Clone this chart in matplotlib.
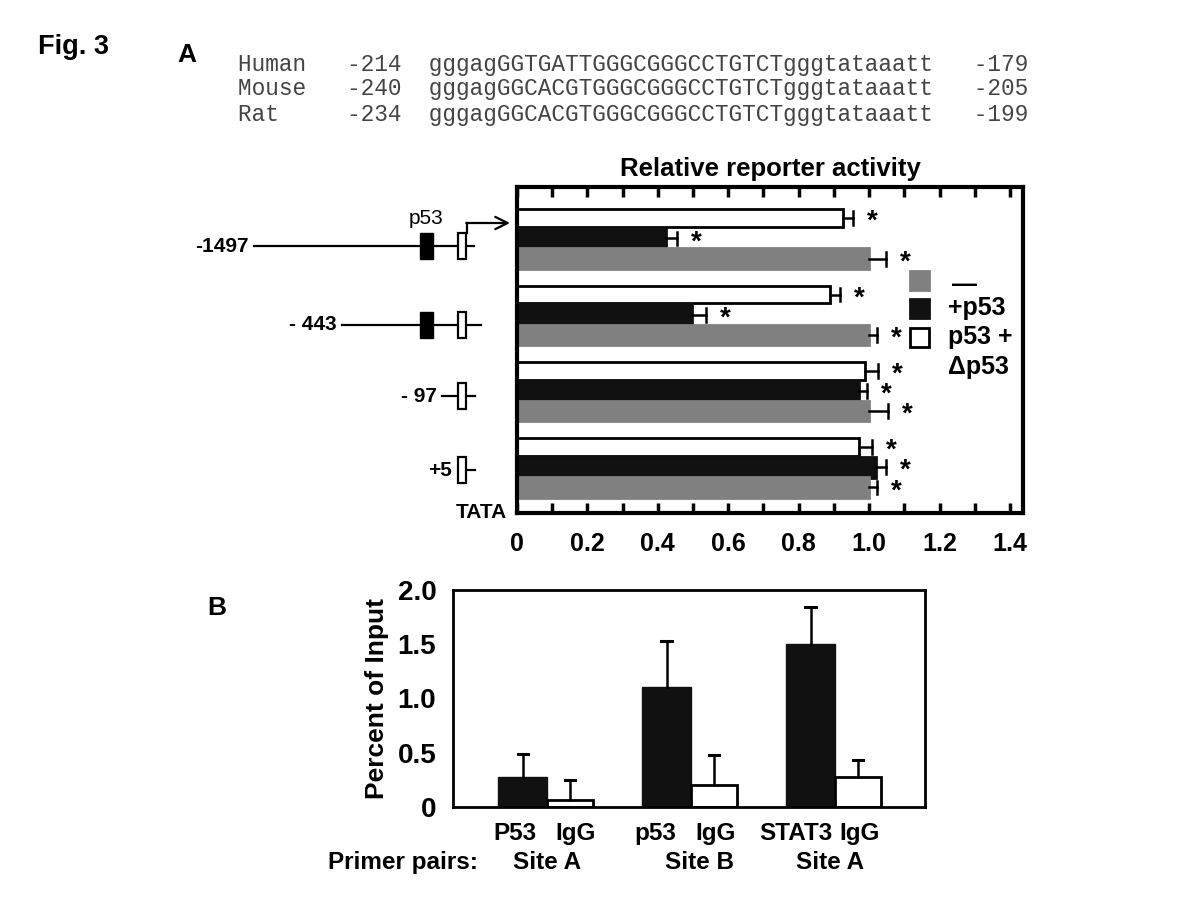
import numpy as np
import matplotlib
matplotlib.use('Agg')
import matplotlib.pyplot as plt
from matplotlib.patches import Rectangle

plt.rcParams['font.family'] = ['Liberation Sans', 'DejaVu Sans']

# --- promoter alignment (panel A, top)
species = ['Human', 'Mouse', 'Rat']
seq_start = ['-214', '-240', '-234']
sequences = ['gggagGGTGATTGGGCGGGCCTGTCTgggtataaatt',
             'gggagGGCACGTGGGCGGGCCTGTCTgggtataaatt',
             'gggagGGCACGTGGGCGGGCCTGTCTgggtataaatt']
seq_end = ['-179', '-205', '-199']

# --- reporter assay (panel A)
constructs = ['-1497', '- 443', '- 97', '+5']
has_p53_site = [True, True, False, False]
ctrl = [1.0, 1.0, 1.0, 1.0]
ctrl_err = [0.048, 0.023, 0.053, 0.023]
p53 = [0.424, 0.497, 0.971, 1.02]
p53_err = [0.03, 0.04, 0.023, 0.028]
dp53 = [0.927, 0.89, 0.988, 0.972]
dp53_err = [0.026, 0.027, 0.038, 0.035]
legend_labels = ['\u2014', '+p53', 'p53 +\n\u0394p53']

# --- ChIP (panel B)
antibodies = ['P53', 'p53', 'STAT3']
sites = ['Site A', 'Site B', 'Site A']
chip = [0.281, 1.105, 1.502]
chip_err = [0.208, 0.428, 0.345]
igg = [0.067, 0.205, 0.275]
igg_err = [0.183, 0.274, 0.159]

W, H = 1200, 900
fig = plt.figure(figsize=(12, 9), dpi=100)


def fx(px):
    return px / W


def fy(py):
    return 1 - py / H


bold = dict(fontweight='bold')

# ================= panel A
axA = fig.add_axes([fx(517), fy(513), fx(1023 - 517), (513 - 187) / H])
y = np.arange(len(constructs))
off = 0.265
rows = [(y - off, dp53, dp53_err, 'white', 0.235),
        (y, p53, p53_err, '#111111', 0.27),
        (y + off, ctrl, ctrl_err, '#808080', 0.27)]
for yy, vals, errs, col, h in rows:
    edge = 'black' if col == 'white' else col
    axA.barh(yy, vals, height=h, color=col, edgecolor=edge, linewidth=2)
    for yi, v, e in zip(yy, vals, errs):
        axA.plot([v, v + e], [yi, yi], color='black', lw=1.8)
        axA.plot([v + e, v + e], [yi - 0.09, yi + 0.09], color='black', lw=1.8)
        axA.text(v + e + 0.055, yi + 0.05, '*', ha='center', va='center',
                 fontsize=20, fontweight='bold')

axA.set_xlim(0, 1.437)
axA.set_ylim(len(constructs) - 0.4, -0.675)
axA.set_xticks(np.arange(0, 1.41, 0.2))
axA.set_xticks(np.arange(0, 1.41, 0.1), minor=True)
axA.set_xticklabels(['0', '0.2', '0.4', '0.6', '0.8', '1.0', '1.2', '1.4'],
                    fontsize=18, fontweight='bold')
axA.tick_params(axis='x', which='both', direction='in', top=True, length=7,
                width=2.5, pad=14)
axA.set_yticks([])
for s in axA.spines.values():
    s.set_linewidth(3)
axA.set_title('Relative reporter activity', fontsize=18.5, fontweight='bold', pad=8)

# ================= panel B
axB = fig.add_axes([fx(453), fy(807), fx(925 - 453), (807 - 590) / H])
x = np.arange(len(antibodies))
axB.bar(x, chip, width=-0.34, align='edge', color='#111111', edgecolor='#111111')
axB.bar(x, igg, width=0.32, align='edge', color='white', edgecolor='black', linewidth=2)
for xi, v, e in zip(x - 0.17, chip, chip_err):
    axB.plot([xi, xi], [v, v + e], color='black', lw=1.8)
    axB.plot([xi - 0.035, xi + 0.035], [v + e, v + e], color='black', lw=2.2)
for xi, v, e in zip(x + 0.16, igg, igg_err):
    axB.plot([xi, xi], [v, v + e], color='black', lw=1.8)
    axB.plot([xi - 0.035, xi + 0.035], [v + e, v + e], color='black', lw=2.2)
axB.set_xlim(-0.653, 2.625)
axB.set_ylim(0, 2.0)
axB.set_xticks([])
axB.set_yticks([0, 0.5, 1.0, 1.5, 2.0])
axB.set_yticklabels(['0', '0.5', '1.0', '1.5', '2.0'], fontsize=20, fontweight='bold')
axB.tick_params(axis='y', length=0, pad=12)
for s in axB.spines.values():
    s.set_linewidth(2)
axB.set_ylabel('Percent of Input', fontsize=19, fontweight='bold', labelpad=6)

# label offsets under each pair of bars
ab_dx = [-0.22, -0.25, -0.27]
igg_dx = [0.20, 0.17, 0.17]
site_dx = [0.0, 0.06, -0.035]
tr = axB.get_xaxis_transform()
for xi, ab, st, a, g, sd in zip(x, antibodies, sites, ab_dx, igg_dx, site_dx):
    axB.text(xi + a, -0.12, ab, transform=tr, ha='center', va='center',
             fontsize=17.5, **bold)
    axB.text(xi + g, -0.12, 'IgG', transform=tr, ha='center', va='center',
             fontsize=17.5, **bold)
    axB.text(xi + sd, -0.255, st, transform=tr, ha='center', va='center',
             fontsize=17.5, **bold)
axB.text(-0.48, -0.255, 'Primer pairs:', transform=tr, ha='right', va='center',
         fontsize=17.5, **bold)

# ================= overlay: labels, alignment, promoter diagram, legend
ov = fig.add_axes([0, 0, 1, 1], zorder=10)
ov.set_xlim(0, W)
ov.set_ylim(H, 0)
ov.axis('off')

ov.text(38, 47, 'Fig. 3', fontsize=19.5, fontweight='bold', va='center')
ov.text(177, 55, 'A', fontsize=19, fontweight='bold', va='center')
ov.text(207, 608, 'B', fontsize=19, fontweight='bold', va='center')

mono = dict(family=['Liberation Mono', 'DejaVu Sans Mono'], fontsize=16.4,
            color='#444444', va='center')
for i, (sp, s0, sq, s1) in enumerate(zip(species, seq_start, sequences, seq_end)):
    line = f'{sp:<8}{s0:<6}{sq}   {s1}'
    ov.text(238, 64 + 25 * i, line, **mono)

# promoter constructs
row_y = [246, 325, 396, 470]
line_start = [254, 342, 442, 466]
line_end = [474, 481, 475, 475]
for lab, site, ry, x0, x1 in zip(constructs, has_p53_site, row_y, line_start, line_end):
    ov.plot([x0, x1], [ry, ry], color='black', lw=1.6)
    if site:
        ov.add_patch(Rectangle((420, ry - 13), 13, 26, facecolor='black', edgecolor='black'))
    ov.add_patch(Rectangle((458, ry - 13), 8, 26, facecolor='white',
                           edgecolor='black', lw=1.6, zorder=3))
    lx = x0 - 5 if x0 < 460 else 452
    ov.text(lx, ry, lab, ha='right', va='center', fontsize=15, **bold)
ov.text(426, 218, 'p53', ha='center', va='center', fontsize=15)
ov.text(507, 513, 'TATA', ha='right', va='center', fontsize=15, **bold)
ov.plot([467, 467], [233, 223], color='black', lw=1.6)
ov.annotate('', xy=(510, 223), xytext=(466.2, 223),
            arrowprops=dict(arrowstyle='->', lw=1.6, mutation_scale=22,
                            shrinkA=0, shrinkB=0))

# legend
leg_cols = ['#808080', '#111111', 'white']
leg_y = [280, 308, 337]
for col, ly, lab in zip(leg_cols, leg_y, legend_labels):
    ov.add_patch(Rectangle((910, ly - 9), 19, 19, facecolor=col,
                           edgecolor='black' if col == 'white' else col, lw=2))
    if '\n' in lab:
        ov.text(948, ly - 12, lab, ha='left', va='top', fontsize=18,
                linespacing=1.3, **bold)
    elif lab == '\u2014':
        ov.text(952, ly + 5, lab, ha='left', va='center', fontsize=18, **bold)
    else:
        ov.text(948, ly, lab, ha='left', va='center', fontsize=18, **bold)

fig.savefig('out.png', dpi=100, facecolor='white')
